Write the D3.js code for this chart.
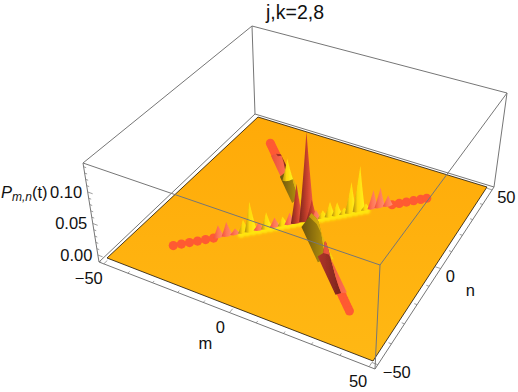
<!DOCTYPE html>
<html>
<head>
<meta charset="utf-8">
<script src="https://cdn.jsdelivr.net/npm/d3@7"></script>
<style>
body { margin: 0; background: #fff; }
text { font-family: "Liberation Sans", Arial, sans-serif; fill: #111; }
</style>
</head>
<body>
<svg id="chart" width="518" height="392"></svg>
<script>
// values
var titleText = "j,k=2,8";
var mTicks = [-50, 0, 50];
var nTicks = [-50, 0, 50];
var zTicks = [0, 0.05, 0.1];
var mMinor = d3.range(-50, 51, 10);
var nMinor = d3.range(-50, 51, 10);
var zMinor = d3.range(-0.01, 0.141, 0.01);

// peaks on the m = n ridge: 0 salmon, 1 yellow, 2 dark red
var diagR = [-22.7, -20.6, -18.5, -16.4, -14.6, -12.5, -10.5, -8.4, -6.3, -4.5, -2.6, 0, 1.3, 2.4, 4.2, 6.1, 8, 9.9, 11.7, 13.9, 15.8, 17.7, 19.6, 21.8];
var diagZ = [0.019, 0.022, 0.009, 0.021, 0.048, 0.012, 0.026, 0.015, 0.014, 0.018, 0.063, 0.145, 0.033, 0.015, 0.012, 0.024, 0.021, 0.01, 0.05, 0.074, 0.01, 0.03, 0.032, 0.017];
var diagKind = [0, 0, 0, 1, 1, 0, 1, 0, 1, 0, 2, 2, 2, 0, 1, 1, 1, 1, 1, 1, 1, 0, 0, 0];

// one sharp peak on the far half of the m = -n ridge
var antiR = [-18];
var antiZ = [0.036];
var antiKind = [1];

// smooth stretches of the m = -n ridge
var upperRidgeR = [-30, -28, -26, -24, -22, -20];
var upperRidgeZ = [0.002, 0.005, 0.012, 0.02, 0.016, 0.006];
var upperHumpR = [-20, -18, -16, -14, -12, -10, -8];
var upperHumpZ = [0.006, 0.016, 0.022, 0.022, 0.016, 0.012, 0.006];
var lowerHumpR = [2, 4, 6, 8, 10, 12, 14, 16];
var lowerHumpZ = [0.014, 0.028, 0.032, 0.036, 0.038, 0.031, 0.015, 0.002];
var lowerRidgeR = [14, 15, 16, 18, 20, 22, 24, 26, 28];
var lowerRidgeZ = [0.004, 0.026, 0.03, 0.026, 0.019, 0.013, 0.007, 0.003, 0.001];

// flat low parts of the ridges, far from the middle
var tailDiagR = [-34, -32, -30, -28, -26, -24, 23, 25, 27, 29, 31, 32.7];
var tailAntiR = [-36, -35, -34, -33, -32, -31, -30, -29, -28, 24, 25, 26, 27, 28, 29, 30, 31, 32, 33, 34];
var glowR = d3.range(-17, 17, 1.5);

var boxDomain = [-52, 52];
var plateDomain = [-50, 50];
var zBox = [-0.0111, 0.146];

var svg = d3.select("#chart");
var defs = svg.append("defs");

function gradient(id, stops, y) {
    var g = defs.append("linearGradient").attr("id", id)
        .attr("x1", 0).attr("x2", y ? 0 : 1).attr("y1", 0).attr("y2", y ? 1 : 0);
    stops.forEach(function(s) {
        g.append("stop").attr("offset", s[0]).attr("stop-color", s[1]);
    });
}
gradient("kind0", [[0, "#f0503a"], [0.45, "#ff7656"], [1, "#ff9272"]]);
gradient("kind1", [[0, "#b08a0c"], [0.4, "#ffd80a"], [1, "#fff41e"]]);
gradient("kind2", [[0, "#7c241c"], [0.5, "#c8402c"], [1, "#ff6a48"]]);
gradient("olive1", [[0, "#6a5210"], [1, "#b89410"]]);
gradient("olive2", [[0, "#c09610"], [1, "#ffd40c"]]);
gradient("red1", [[0, "#b0352a"], [1, "#7a241c"]]);
gradient("red2", [[0, "#e8503a"], [1, "#ff7050"]]);
gradient("plateFill", [[0, "#ffaa08"], [1, "#ffb814"]], true);

var blur = defs.append("filter").attr("id", "soft")
    .attr("x", "-50%").attr("y", "-50%").attr("width", "200%").attr("height", "200%");
blur.append("feGaussianBlur").attr("stdDeviation", 1.3);
var blur2 = defs.append("filter").attr("id", "soft2");
blur2.append("feGaussianBlur").attr("stdDeviation", 0.4);

// homography from the unit square onto four corners (Heckbert)
function quad(c) {
    var dx1 = c[1][0] - c[2][0], dx2 = c[3][0] - c[2][0], sx = c[0][0] - c[1][0] + c[2][0] - c[3][0];
    var dy1 = c[1][1] - c[2][1], dy2 = c[3][1] - c[2][1], sy = c[0][1] - c[1][1] + c[2][1] - c[3][1];
    var det = dx1 * dy2 - dx2 * dy1;
    var g = (sx * dy2 - dx2 * sy) / det, h = (dx1 * sy - sx * dy1) / det;
    var a = c[1][0] - c[0][0] + g * c[1][0], b = c[3][0] - c[0][0] + h * c[3][0];
    var d = c[1][1] - c[0][1] + g * c[1][1], e = c[3][1] - c[0][1] + h * c[3][1];
    return function(u, v) {
        var w = g * u + h * v + 1;
        return [(a * u + b * v + c[0][0]) / w, (d * u + e * v + c[0][1]) / w];
    };
}

// corners in order (m-,n-) (m+,n-) (m+,n+) (m-,n+)
var boxLow = quad([[99, 262], [375, 369], [494, 187], [255, 114]]);
var boxTop = quad([[83, 163], [380, 265], [507, 93], [252, 26]]);
var plateQuad = quad([[107, 258], [373, 361], [487, 187], [258, 117]]);

var boxU = d3.scaleLinear().domain(boxDomain).range([0, 1]);
var plateU = d3.scaleLinear().domain(plateDomain).range([0, 1]);
var zT = d3.scaleLinear().domain(zBox).range([0, 1]);
var zSpan = zBox[1] - zBox[0];

function box3(m, n, z) {
    var a = boxLow(boxU(m), boxU(n)), b = boxTop(boxU(m), boxU(n)), t = zT(z);
    return [a[0] + (b[0] - a[0]) * t, a[1] + (b[1] - a[1]) * t];
}
function project(m, n, z) {
    var p = plateQuad(plateU(m), plateU(n));
    var a = boxLow(boxU(m), boxU(n)), b = boxTop(boxU(m), boxU(n));
    return [p[0] + (b[0] - a[0]) * z / zSpan, p[1] + (b[1] - a[1]) * z / zSpan];
}

var boxLine = function(g, p, q, w) {
    g.append("line").attr("x1", p[0]).attr("y1", p[1]).attr("x2", q[0]).attr("y2", q[1])
        .attr("stroke", "#767676").attr("stroke-width", w || 1);
};

var lo = boxDomain[0], hi = boxDomain[1], z0 = zBox[0], z1 = zBox[1];

// back of the box
var back = svg.append("g");
boxLine(back, box3(lo, hi, z0), box3(lo, hi, z1));
boxLine(back, box3(lo, lo, z1), box3(lo, hi, z1));
boxLine(back, box3(lo, hi, z1), box3(hi, hi, z1));
boxLine(back, box3(hi, hi, z1), box3(hi, hi, z0));
boxLine(back, box3(lo, lo, z0), box3(lo, hi, z0));
boxLine(back, box3(lo, hi, z0), box3(hi, hi, z0));
boxLine(back, box3(lo, lo, z0), box3(lo, lo, z1));
boxLine(back, box3(lo, lo, z0), box3(hi, lo, z0));
boxLine(back, box3(hi, lo, z0), box3(hi, hi, z0));

// the flat plate
var plate = [[-50, -50], [50, -50], [50, 50], [-50, 50]].map(function(c) { return project(c[0], c[1], 0); });
svg.append("path")
    .attr("d", d3.line()(plate) + "Z")
    .attr("fill", "url(#plateFill)")
    .attr("stroke", "#1a1208")
    .attr("stroke-width", 0.8);

// yellow glow under the peaks
var surface = svg.append("g");
surface.append("g").attr("filter", "url(#soft)").selectAll("circle")
    .data(glowR).enter().append("circle")
    .attr("cx", function(r) { return project(r, r, 0)[0]; })
    .attr("cy", function(r) { return project(r, r, 0)[1] + 1; })
    .attr("r", 3.8)
    .attr("fill", "#ffe60f");

// flat coral ridges
var tails = surface.append("g").attr("filter", "url(#soft2)");
tails.selectAll("circle.d").data(tailDiagR).enter().append("circle").attr("class", "d")
    .attr("cx", function(r) { return project(r, r, 0)[0]; })
    .attr("cy", function(r) { return project(r, r, 0)[1]; })
    .attr("r", 4.6).attr("fill", "#ff5a32");
tails.selectAll("circle.a").data(tailAntiR).enter().append("circle").attr("class", "a")
    .attr("cx", function(r) { return project(r, -r, 0)[0]; })
    .attr("cy", function(r) { return project(r, -r, 0)[1]; })
    .attr("r", 4.5).attr("fill", "#ff5a32");

// a stretch of the m = -n ridge drawn as two faces either side of its crest
function ridge(rs, zs, w, leftFill, rightFill) {
    var crest = rs.map(function(r, i) { return project(r, -r, zs[i]); });
    var line = d3.line();
    [[-w, leftFill], [w, rightFill]].forEach(function(f) {
        var base = rs.map(function(r) { return project(r + f[0], -r + f[0], 0); }).reverse();
        surface.append("path")
            .attr("d", line(crest.concat(base)) + "Z")
            .attr("fill", f[1])
            .attr("filter", "url(#soft2)");
    });
}

function peakPath(d) {
    var w = 1.3 + 5 * d.z;
    var l = project(d.m - w, d.n - w, 0), r = project(d.m + w, d.n + w, 0);
    var cl = project(d.m - w * 0.5, d.n - w * 0.5, d.z * 0.4);
    var cr = project(d.m + w * 0.5, d.n + w * 0.5, d.z * 0.4);
    var t = project(d.m, d.n, d.z);
    var b = project(d.m, d.n, -0.004);
    var p = d3.path();
    p.moveTo(l[0], l[1]);
    p.quadraticCurveTo(cl[0], cl[1], t[0], t[1]);
    p.quadraticCurveTo(cr[0], cr[1], r[0], r[1]);
    p.quadraticCurveTo(b[0], b[1], l[0], l[1]);
    p.closePath();
    return p.toString();
}
function drawPeaks(rows) {
    surface.append("g").attr("filter", "url(#soft2)").selectAll("path")
        .data(rows).enter().append("path")
        .attr("d", peakPath)
        .attr("fill", function(d) { return "url(#kind" + d.kind + ")"; });
}

// far to near
ridge(upperRidgeR, upperRidgeZ, 1.4, "url(#red2)", "url(#red1)");
ridge(upperHumpR, upperHumpZ, 1.6, "url(#olive1)", "url(#olive2)");
drawPeaks(antiR.map(function(r, i) { return {m: r, n: -r, z: antiZ[i], kind: antiKind[i]}; }));
drawPeaks(diagR.map(function(r, i) { return {m: r, n: r, z: diagZ[i], kind: diagKind[i]}; }));
ridge(lowerHumpR, lowerHumpZ, 2, "url(#olive1)", "url(#olive2)");
ridge(lowerRidgeR, lowerRidgeZ, 1.4, "url(#red1)", "url(#red2)");

// front of the box, over everything
var front = svg.append("g");
boxLine(front, box3(lo, lo, z1), box3(hi, lo, z1));
boxLine(front, box3(hi, lo, z1), box3(hi, hi, z1));
boxLine(front, box3(hi, lo, z1), box3(hi, lo, z0));

// ticks
var ticks = svg.append("g");
mMinor.forEach(function(t) {
    var big = mTicks.indexOf(t) >= 0 ? 2 : 1;
    boxLine(ticks, box3(t, lo, z0), box3(t, lo + big, z0), 0.7);
});
nMinor.forEach(function(t) {
    var big = nTicks.indexOf(t) >= 0 ? 2 : 1;
    boxLine(ticks, box3(hi, t, z0), box3(hi - big, t, z0), 0.7);
});
zMinor.forEach(function(t) {
    var big = Math.abs(t * 20 - Math.round(t * 20)) < 1e-6 ? 2 : 1;
    boxLine(ticks, box3(lo, lo, t), box3(lo + big, lo, t), 0.7);
});

// labels
var tickFont = 16.5;
function label(p, dx, dy, s, anchor) {
    svg.append("text").attr("x", p[0] + dx).attr("y", p[1] + dy)
        .attr("text-anchor", anchor || "middle").attr("font-size", tickFont)
        .text(s);
}
function fmt(v) { return v < 0 ? "\u2212" + Math.abs(v) : String(v); }

var mLabelDx = [-15, -9, -11];
mTicks.forEach(function(t, i) { label(box3(t, lo, z0), mLabelDx[i], 20, fmt(t)); });
nTicks.forEach(function(t) { label(box3(hi, t, z0), 5, 13, fmt(t), "start"); });
zTicks.forEach(function(t) { label(box3(lo, lo, t), -5.5, 6, t.toFixed(2), "end"); });

label(box3(0, lo, z0), -24, 36, "m");
label(box3(hi, 0, z0), 25, 27, "n", "start");

var pLabel = svg.append("text").attr("x", 1).attr("y", 198).attr("font-size", tickFont);
pLabel.append("tspan").attr("font-style", "italic").text("P");
pLabel.append("tspan").attr("font-style", "italic").attr("font-size", 12).attr("dy", 3).text("m,n");
pLabel.append("tspan").attr("dy", -3).text("(t)");

svg.append("text").attr("x", 295).attr("y", 19).attr("text-anchor", "middle")
    .attr("font-size", 19.5).text(titleText);
</script>
</body>
</html>
